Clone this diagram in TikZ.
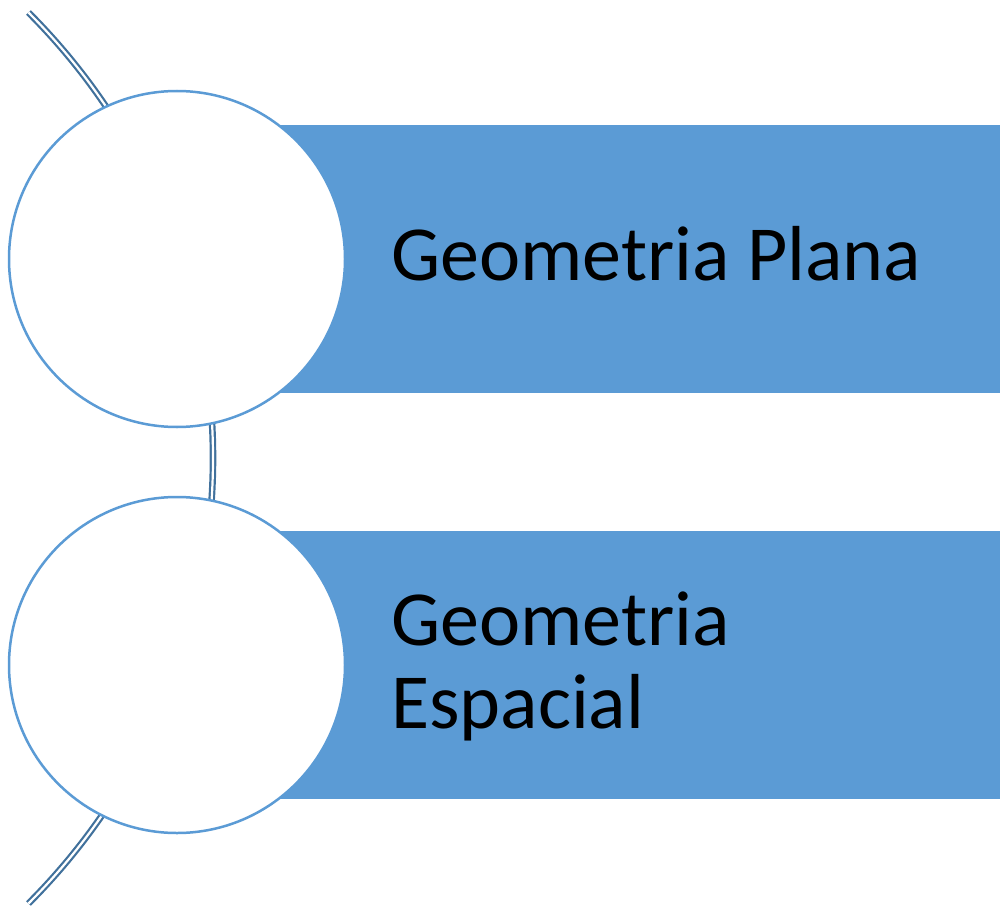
\documentclass[tikz,border=0pt]{standalone}
\usepackage{fontspec}
\setmainfont{Carlito}
\definecolor{accent}{HTML}{5B9BD5}
\definecolor{spine}{HTML}{41719C}
\tikzset{
  x=1pt, y=-1pt,
  band/.style={fill=accent, draw=none, inner sep=0pt, anchor=north west},
  disc/.style={circle, draw=accent, fill=white, line width=2.5pt, minimum size=336pt, inner sep=0pt},
  label/.style={font=\fontsize{78}{83}\selectfont, text=black, inner sep=0pt, align=left, anchor=base west},
  spineline/.style={draw=spine, line width=2.2pt, double=white, double distance=2.2pt}
}
\begin{document}
\begin{tikzpicture}
\useasboundingbox (0,0) rectangle (1000,909);
% curved spine behind the list
\coordinate (hub) at (-417,458);
\draw[spineline] (hub) ++(-45:630) arc[start angle=-45, end angle=45, radius=630];
% coloured bands
\node[band, minimum width=823pt, minimum height=268pt] (band1) at (177,125) {};
\node[band, minimum width=823pt, minimum height=268pt] (band2) at (177,531) {};
% white discs
\node[disc] (disc1) at (177,259) {};
\node[disc] (disc2) at (177,665) {};
% labels (base anchor sits on the last line)
\node[label] (text1) at (391,280) {Geometria Plana};
\node[label] (text2) at (391,728) {Geometria\\Espacial};
\end{tikzpicture}
\end{document}
